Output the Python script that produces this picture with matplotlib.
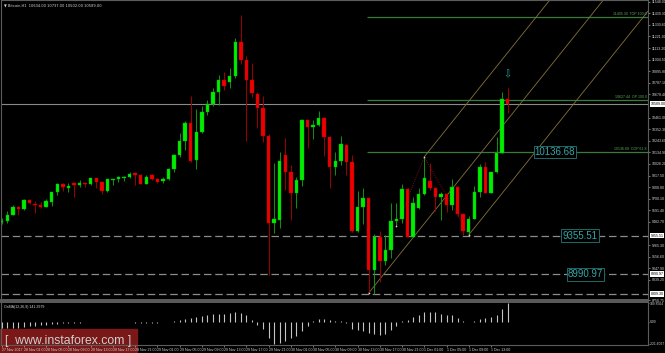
import numpy as np
import matplotlib.pyplot as plt
from matplotlib.patches import Rectangle
import matplotlib.transforms as mtransforms

plt.rcParams['font.family'] = ['Liberation Sans', 'DejaVu Sans']

# Bitcoin H1 candles, 27 Nov 21:00 -> 1 Dec 16:00
opens = [9481, 9496, 9549, 9622, 9603, 9693, 9655, 9646, 9624, 9674,
         9762, 9840, 9805, 9849, 9830, 9849, 9840, 9893, 9859, 9777,
         9880, 9887, 9899, 9903, 9940, 9924, 9843, 9927, 9887, 9862,
         9884, 9980, 10112, 10246, 10409, 10065, 10324, 10512, 10589, 10702,
         10814, 10796, 10852, 11170, 11002, 10814, 10683, 10549, 10292, 9472,
         9503, 10112, 9952, 9756, 9877, 10440, 10377, 10393, 10456, 10277,
         10002, 10055, 10205, 10043, 9402, 9622, 9706, 9028, 9346, 9121,
         9221, 9493, 9512, 9790, 9346, 9612, 9746, 9871, 9800, 9721,
         9746, 9637, 9815, 9556, 9393, 9512, 9768, 10002, 9758, 9950,
         10133, 10634]
highs = [9518, 9587, 9643, 9634, 9699, 9697, 9681, 9668, 9697, 9768,
         9846, 9846, 9852, 9854, 9877, 9852, 9899, 9899, 9862, 9887,
         9890, 9915, 9912, 9955, 9950, 9934, 9924, 9934, 9896, 9903,
         9987, 10118, 10315, 10430, 10664, 10540, 10571, 10627, 10739, 10861,
         10889, 10927, 11208, 11423, 11039, 10974, 10702, 10664, 10308, 10037,
         10143, 10274, 10018, 9908, 10449, 10449, 10440, 10527, 10468, 10290,
         10143, 10292, 10215, 10112, 9777, 9802, 9709, 9371, 9402, 9362,
         9665, 9662, 9840, 9802, 9721, 9800, 10093, 10037, 9815, 9768,
         9753, 9887, 9821, 9571, 9534, 9821, 10027, 10049, 9955, 10277,
         10705, 10737]
lows = [9465, 9477, 9545, 9549, 9596, 9652, 9565, 9618, 9620, 9634,
        9737, 9777, 9768, 9715, 9815, 9815, 9830, 9800, 9746, 9768,
        9830, 9859, 9871, 9893, 9830, 9837, 9837, 9877, 9846, 9852,
        9877, 9955, 10090, 10158, 10049, 9980, 10315, 10486, 10571, 10580,
        10721, 10739, 10833, 10964, 10243, 10652, 10365, 10236, 8987, 9381,
        9428, 9784, 9503, 9615, 9824, 10180, 10262, 10383, 10102, 9802,
        9924, 10018, 9924, 9393, 9393, 9465, 8816, 8809, 8924, 9081,
        9146, 9440, 9474, 9340, 9340, 9603, 9737, 9784, 9590, 9503,
        9580, 9596, 9534, 9362, 9362, 9509, 9721, 9753, 9753, 9940,
        10130, 10502]
closes = [9496, 9549, 9622, 9606, 9693, 9665, 9640, 9624, 9681, 9762,
          9840, 9815, 9824, 9830, 9852, 9843, 9896, 9859, 9774, 9884,
          9887, 9903, 9908, 9936, 9924, 9843, 9906, 9884, 9859, 9887,
          9980, 10112, 10246, 10409, 10058, 10330, 10517, 10589, 10702, 10814,
          10758, 10852, 11170, 11002, 10814, 10690, 10549, 10292, 9477, 9512,
          10055, 9952, 9756, 9877, 10440, 10377, 10393, 10456, 10277, 10002,
          10055, 10212, 10043, 9402, 9622, 9706, 9028, 9346, 9121, 9221,
          9493, 9512, 9790, 9346, 9659, 9746, 9893, 9800, 9721, 9746,
          9637, 9815, 9556, 9402, 9512, 9768, 10002, 9758, 9950, 10133,
          10634, 10589]
osma = [-64, -64, -64, -64, -58, -48, -42, -38, -32, -26,
        -19, -16, -13, -10, -10, -6, -6, -6, -6, -6,
        -3, -6, -6, -6, -10, -10, -10, -10, -10, -6,
        -3, 3, 16, 32, 38, 48, 58, 70, 80, 80,
        80, 86, 96, 86, 64, 16, -32, -70, -160, -221.6,
        -220, -192, -160, -144, -96, -48, 6, 32, 32, 16,
        6, 3, -16, -70, -80, -96, -112, -128, -138, -128,
        -80, -48, 6, 16, 48, 64, 96, 96, 96, 80,
        64, 64, 38, 6, -6, 6, 32, 38, 48, 70,
        128, 189.86]

date_labels = ["27 Nov 2017", "28 Nov 01:00", "28 Nov 05:00", "28 Nov 09:00",
               "28 Nov 13:00", "28 Nov 17:00", "28 Nov 21:00", "29 Nov 01:00",
               "29 Nov 05:00", "29 Nov 09:00", "29 Nov 13:00", "29 Nov 17:00",
               "29 Nov 21:00", "30 Nov 01:00", "30 Nov 05:00", "30 Nov 09:00",
               "30 Nov 13:00", "30 Nov 17:00", "30 Nov 21:00", "1 Dec 01:00",
               "1 Dec 05:00", "1 Dec 09:00", "1 Dec 13:00"]

price_ticks = [11548.00, 11439.30, 11330.60, 11221.90, 11113.20, 11004.50,
               10895.80, 10787.10, 10678.40, 10569.70, 10461.00, 10352.30,
               10243.60, 10134.90, 10026.20, 9917.50, 9808.80, 9700.10,
               9591.40, 9482.70, 9374.00, 9265.30, 9156.60, 9047.90,
               8939.20, 8830.50, 8750.75]
osma_ticks = [189.8564, 0.0, -221.6027]

# fib style levels (green) and support levels (dashed)
fib_levels = [11405.30, 10627.44, 10136.68]
fib_names = ["TOP 100.0", "OP 100.0", "COP 61.8"]
support_levels = [9355.51, 8990.97, 8809.30]
last_price = 10589.00

# equidistant channel
chan_start = 66
chan_base = 8816
chan_slope = 65.1
chan_width = 627

zigzag_idx = [71, 76, 84]

BG = 'black'
FRAME = '#5c5c5c'
TXT = '#d4d4d4'

fig = plt.figure(figsize=(6.65, 3.53), dpi=100, facecolor=BG)
ax = fig.add_axes([1/665, 1 - 300/353, 647/665, 300/353])
ax2 = fig.add_axes([1/665, 1 - 345/353, 647/665, 43/353])
for a in (ax, ax2):
    a.set_facecolor(BG)
    for s in a.spines.values():
        s.set_color(FRAME)
        s.set_linewidth(0.8)
    a.set_xlim(-0.13, 116.24)
ax.spines['bottom'].set_linewidth(1.4)
ax2.spines['top'].set_linewidth(1.4)

n = len(opens)
x = np.arange(n)
o = np.array(opens, float)
c = np.array(closes, float)
h = np.array(highs, float)
l = np.array(lows, float)
up = c >= o

# wicks
ax.vlines(x[up], l[up], h[up], color='#109410', lw=0.7, zorder=3)
ax.vlines(x[~up], l[~up], h[~up], color='#a00000', lw=0.7, zorder=3)
# bodies
body = np.maximum(np.abs(c - o), 8)
ax.bar(x[up], body[up], bottom=np.minimum(o, c)[up], width=0.62,
       color='#00ee00', edgecolor='#00b000', lw=0.3, zorder=4)
ax.bar(x[~up], body[~up], bottom=np.minimum(o, c)[~up], width=0.62,
       color='#ee0000', edgecolor='#b00000', lw=0.3, zorder=4)

ax.set_ylim(8753, 11564)

# current price line
ax.axhline(last_price, color='#8a8a8a', lw=0.8, zorder=2)

# fib levels
for lev, name in zip(fib_levels, fib_names):
    ax.hlines(lev, 65.7, 116.24, color='#3a7a3a', lw=0.9, zorder=2)
    ax.text(116.0, lev + 8, f"{lev:.2f}  {name}", color='#5aa85a', fontsize=2.6,
            ha='right', va='bottom', zorder=5)

# support levels
for lev in support_levels:
    ax.axhline(lev, color='#8c8c8c', lw=0.9, dashes=(6, 3), zorder=2)

# big boxed labels
box_labels = [(99.5, fib_levels[2]), (104.0, support_levels[0]), (105.0, support_levels[1])]
for bx, lev in box_labels:
    ax.text(bx, lev, f"{lev:.2f}", color='#35a5a5', fontsize=7, ha='center', va='center',
            zorder=6, bbox=dict(boxstyle='square,pad=0.12', fc='black', ec='#1f6a6a', lw=0.7))

# channel
def chan(i):
    return chan_base + chan_slope * (np.asarray(i, float) - chan_start)

xr = np.array([chan_start, 116.24])
ax.plot(xr, chan(xr), color='#85733a', lw=0.6, zorder=2)
xr = np.array([76, 116.24])
ax.plot(xr, chan(xr) + chan_width, color='#85733a', lw=0.6, zorder=2)
xr = np.array([84, 116.24])
ax.plot(xr, chan(xr) - chan_width, color='#85733a', lw=0.6, zorder=2)

# zigzag
zz_y = [l[zigzag_idx[0]], h[zigzag_idx[1]], l[zigzag_idx[2]]]
ax.plot(zigzag_idx, zz_y, color='#8a1a1a', lw=0.6, ls=(0, (1, 1.5)), zorder=2)
ax.scatter([66] + zigzag_idx, [l[66]] + zz_y, s=1.5, color='#e8c8c8', zorder=5, lw=0)

# arrow above last bar
ax.text(n - 1, 10871, "\u21e9", color='#2aa0a0', fontsize=7, ha='center', va='center',
        family='DejaVu Sans', zorder=6)

# header
ax.text(0.004, 0.988, "\u25bc Bitcoin,H1  10634.00 10737.00 10502.00 10589.00",
        transform=ax.transAxes, color=TXT, fontsize=2.6, ha='left', va='top',
        family=['DejaVu Sans'])

# price axis
box_vals = [last_price] + support_levels
tick_show = [t for t in price_ticks if min(abs(t - b) for b in box_vals) > 45]
ax.yaxis.tick_right()
ax.set_yticks(tick_show)
ax.set_yticklabels([f"{t:.2f}" for t in tick_show])
ax.tick_params(axis='y', colors=TXT, labelsize=2.6, length=1.5, width=0.4, pad=1)
ax.tick_params(axis='x', bottom=False, labelbottom=False)
trans = mtransforms.blended_transform_factory(ax.transAxes, ax.transData)
for b in box_vals:
    ax.text(1.004, b, f"{b:.2f}", transform=trans, fontsize=2.6, color='black',
            ha='left', va='center', zorder=7,
            bbox=dict(boxstyle='square,pad=0.25', fc='white', ec='white', lw=0))

# OsMA panel
ax2.vlines(x, 0, osma, color='#c4c4c4', lw=0.8)
ax2.set_ylim(-236, 200)
ax2.yaxis.tick_right()
ax2.set_yticks(osma_ticks)
ax2.set_yticklabels(["189.8564", "0.00", "-221.6027"])
ax2.tick_params(axis='y', colors=TXT, labelsize=2.4, length=1.0, width=0.4, pad=0.5)
ax2.set_xticks(np.arange(0, 4 * len(date_labels), 4))
ax2.set_xticklabels(date_labels, ha='left')
ax2.tick_params(axis='x', colors=TXT, labelsize=2.6, length=1.5, width=0.4, pad=1)
ax2.text(0.004, 0.93, "OsMA(12,26,9) 141.2979", transform=ax2.transAxes,
         color=TXT, fontsize=2.6, ha='left', va='top')
ax2.set_zorder(2)
ax2.patch.set_alpha(0)
ax.set_zorder(1)

# watermark
fig.patches.append(Rectangle((0, 1 / 353), 137 / 665, 23 / 353, transform=fig.transFigure,
                             color='#7a1818', zorder=1.5))
fig.text(68 / 665, 1 - 341 / 353, "[  www.instaforex.com ]", color='#cfcfcf',
         fontsize=8.8, ha='center', va='center', zorder=3)

fig.savefig("out.png", dpi=100, facecolor=BG)
